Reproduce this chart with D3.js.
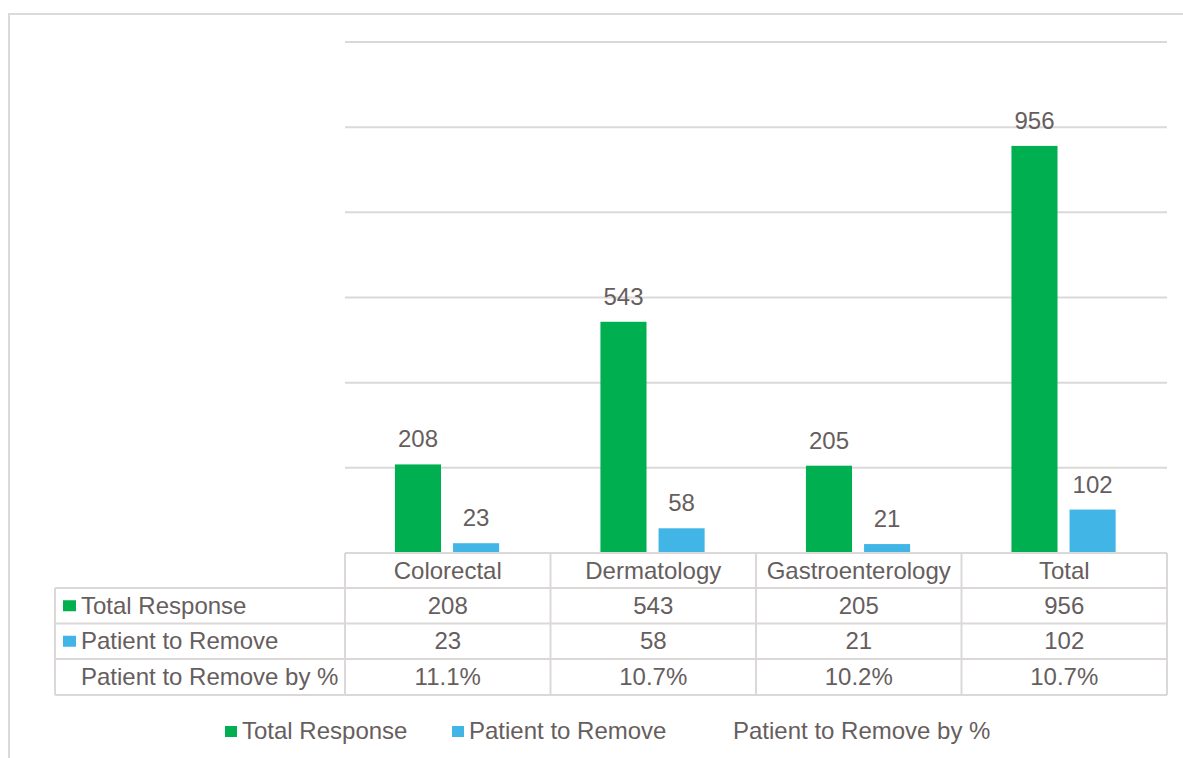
<!DOCTYPE html>
<html>
<head>
<meta charset="utf-8">
<script src="https://cdn.jsdelivr.net/npm/d3@7"></script>
<style>
  body { margin: 0; background: #fff; }
  svg { display: block; font-family: "Liberation Sans", Arial, sans-serif; }
</style>
</head>
<body>
<svg id="chart" width="1183" height="758"></svg>
<script>
'use strict';

var categories = ["Colorectal", "Dermatology", "Gastroenterology", "Total"];
var totalResponse = [208, 543, 205, 956];
var patientToRemove = [23, 58, 21, 102];
var removePct = ["11.1%", "10.7%", "10.2%", "10.7%"];
var seriesNames = ["Total Response", "Patient to Remove", "Patient to Remove by %"];
var seriesColors = ["#00b050", "#41b6e6", null];
var yTicks = [0, 200, 400, 600, 800, 1000, 1200];

var textColor = "#665e5e";
var lineColor = "#dcd8d8";
var fontSize = "24px";

var svg = d3.select("#chart");

// outer chart frame (top/left visible)
svg.append("path")
  .attr("d", "M9,758 V14 H1183")
  .attr("fill", "none")
  .attr("stroke", "#dadada")
  .attr("stroke-width", 2);

var x0 = d3.scaleBand()
  .domain(categories)
  .range([345, 1167]);

var x1 = d3.scaleBand()
  .domain(seriesNames.slice(0, 2))
  .range([x0.bandwidth() * 0.243, x0.bandwidth() * 0.75])
  .paddingInner(0.207);

var y = d3.scaleLinear()
  .domain([0, 1200])
  .range([553, 42]);

// gridlines
svg.append("g").selectAll("line")
  .data(yTicks)
  .enter().append("line")
    .attr("x1", 345)
    .attr("x2", 1167)
    .attr("y1", function(d) { return y(d); })
    .attr("y2", function(d) { return y(d); })
    .attr("stroke", lineColor)
    .attr("stroke-width", 2);

var rows = categories.map(function(c, i) {
  return { cat: c, values: [totalResponse[i], patientToRemove[i]] };
});

var groups = svg.append("g").selectAll("g")
  .data(rows)
  .enter().append("g")
    .attr("transform", function(d) { return "translate(" + x0(d.cat) + ",0)"; });

groups.selectAll("rect")
  .data(function(d) { return d.values.map(function(v, j) { return { key: seriesNames[j], value: v, j: j }; }); })
  .enter().append("rect")
    .attr("x", function(d) { return x1(d.key); })
    .attr("width", x1.bandwidth())
    .attr("y", function(d) { return y(d.value); })
    .attr("height", function(d) { return y(0) - y(d.value); })
    .attr("fill", function(d) { return seriesColors[d.j]; });

groups.selectAll("text")
  .data(function(d) { return d.values.map(function(v, j) { return { key: seriesNames[j], value: v }; }); })
  .enter().append("text")
    .attr("x", function(d) { return x1(d.key) + x1.bandwidth() / 2; })
    .attr("y", function(d) { return y(d.value) - 17; })
    .attr("text-anchor", "middle")
    .attr("font-size", fontSize)
    .attr("fill", textColor)
    .text(function(d) { return d.value; });

// data table
var rowTop = [553, 588, 623.5, 659, 695];
var tableLeft = 55;
var table = svg.append("g");

// horizontal lines
table.selectAll("line.h")
  .data(rowTop)
  .enter().append("line")
    .attr("class", "h")
    .attr("x1", function(d, i) { return i === 0 ? 345 : tableLeft; })
    .attr("x2", 1167)
    .attr("y1", function(d) { return d; })
    .attr("y2", function(d) { return d; })
    .attr("stroke", lineColor)
    .attr("stroke-width", 2);

// vertical lines
var colEdges = categories.map(function(c) { return x0(c); }).concat([x0.range()[1]]);
table.selectAll("line.v")
  .data(colEdges)
  .enter().append("line")
    .attr("class", "v")
    .attr("x1", function(d) { return d; })
    .attr("x2", function(d) { return d; })
    .attr("y1", rowTop[0])
    .attr("y2", rowTop[4])
    .attr("stroke", lineColor)
    .attr("stroke-width", 2);

table.append("line")
  .attr("x1", tableLeft).attr("x2", tableLeft)
  .attr("y1", rowTop[1]).attr("y2", rowTop[4])
  .attr("stroke", lineColor)
  .attr("stroke-width", 2);

// header
table.selectAll("text.head")
  .data(categories)
  .enter().append("text")
    .attr("class", "head")
    .attr("x", function(d) { return x0(d) + x0.bandwidth() / 2; })
    .attr("y", (rowTop[0] + rowTop[1]) / 2 + 8.5)
    .attr("text-anchor", "middle")
    .attr("font-size", fontSize)
    .attr("fill", textColor)
    .text(function(d) { return d; });

var tableRows = [totalResponse, patientToRemove, removePct];

tableRows.forEach(function(vals, r) {
  var cy = (rowTop[r + 1] + rowTop[r + 2]) / 2;
  if (seriesColors[r]) {
    table.append("rect")
      .attr("x", 63).attr("y", cy - 5.5)
      .attr("width", 13).attr("height", 11)
      .attr("fill", seriesColors[r]);
  }
  table.append("text")
    .attr("x", 81)
    .attr("y", cy + 8)
    .attr("font-size", fontSize)
    .attr("fill", textColor)
    .text(seriesNames[r]);
  table.selectAll(null)
    .data(vals)
    .enter().append("text")
      .attr("x", function(d, i) { return x0(categories[i]) + x0.bandwidth() / 2; })
      .attr("y", cy + 8)
      .attr("text-anchor", "middle")
      .attr("font-size", fontSize)
      .attr("fill", textColor)
      .text(function(d) { return d; });
});

// legend
var legendX = [225, 452, 716];
var legend = svg.append("g").selectAll("g")
  .data(seriesNames)
  .enter().append("g")
    .attr("transform", function(d, i) { return "translate(" + legendX[i] + ",731)"; });

legend.filter(function(d, i) { return seriesColors[i]; })
  .append("rect")
    .attr("x", 0).attr("y", -5)
    .attr("width", 12).attr("height", 11)
    .attr("fill", function(d, i) { return seriesColors[i]; });

legend.append("text")
  .attr("x", 17)
  .attr("y", 8)
  .attr("font-size", fontSize)
  .attr("fill", textColor)
  .text(function(d) { return d; });
</script>
</body>
</html>
